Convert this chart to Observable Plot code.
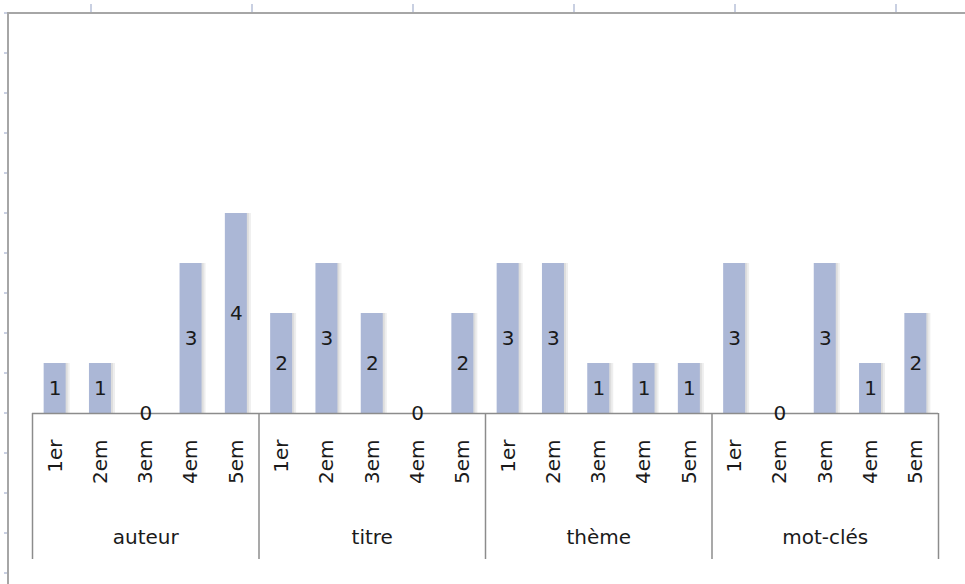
<!DOCTYPE html>
<html>
<head>
<meta charset="utf-8">
<script src="https://cdn.jsdelivr.net/npm/d3@7"></script>
<script src="https://cdn.jsdelivr.net/npm/@observablehq/plot@0.6"></script>
<style>
  html, body { margin: 0; padding: 0; background: #fff; }
  #wrap { position: relative; width: 965px; height: 584px; overflow: hidden; }
  #topticks { position: absolute; left: 0; top: 4px; width: 965px; height: 8px;
    background: repeating-linear-gradient(to right, transparent 0 90px, #c9d0e2 90px 92px, transparent 92px 161px); }
  #leftticks { position: absolute; left: 4px; top: 0; width: 3px; height: 584px;
    background: repeating-linear-gradient(to bottom, transparent 0 12px, #c9d0e2 12px 14px, transparent 14px 40px); }
  #frame { position: absolute; left: 7px; top: 12px; width: 970px; height: 600px;
    border-top: 2px solid #a6a6a6; border-left: 2px solid #a6a6a6; box-sizing: border-box; }
  #chart { position: absolute; left: 0; top: 0; }
</style>
</head>
<body>
<div id="wrap">
  <div id="topticks"></div>
  <div id="leftticks"></div>
  <div id="frame"></div>
  <div id="chart"></div>
</div>
<script>
const groups = ["auteur", "titre", "thème", "mot-clés"];
const ranks = ["1er", "2em", "3em", "4em", "5em"];
const auteur = [1, 1, 0, 3, 4];
const titre = [2, 3, 2, 0, 2];
const theme = [3, 3, 1, 1, 1];
const motCles = [3, 0, 3, 1, 2];

const seriesByGroup = { "auteur": auteur, "titre": titre, "thème": theme, "mot-clés": motCles };
const data = groups.flatMap(g => ranks.map((r, i) => ({ group: g, rank: r, key: g + "|" + r, value: seriesByGroup[g][i] })));
const keys = data.map(d => d.key);

const W = 965, H = 584;
const mL = 32, mR = 27, mT = 13, mB = 171;
const bw = (W - mL - mR) / keys.length;
const barW = 22;
const inset = (bw - barW) / 2;
const font = "DejaVu Sans, sans-serif";

const firsts = data.filter(d => d.rank === ranks[0]);
const lasts = data.filter(d => d.group === groups[groups.length - 1] && d.rank === ranks[ranks.length - 1]);
const middles = data.filter(d => d.rank === ranks[2]);

const chart = Plot.plot({
  width: W,
  height: H,
  marginLeft: mL,
  marginRight: mR,
  marginTop: mT,
  marginBottom: mB,
  style: { fontFamily: font, background: "transparent", overflow: "visible" },
  x: { type: "band", domain: keys, padding: 0, round: false, axis: null },
  y: { domain: [0, 8], axis: null },
  marks: [
    // soft shadow
    Plot.barY(data.filter(d => d.value > 0), { x: "key", y: "value", insetLeft: inset + 2, insetRight: inset - 4, fill: "#eeeeee" }),
    Plot.barY(data.filter(d => d.value > 0), { x: "key", y: "value", insetLeft: inset + 1, insetRight: inset - 2, fill: "#dddddd" }),
    Plot.barY(data, { x: "key", y: "value", insetLeft: inset, insetRight: inset, fill: "#abb7d6" }),
    // baseline
    Plot.ruleY([0], { stroke: "#8c8c8c", strokeWidth: 1.5 }),
    // group separators
    Plot.ruleX(firsts, { x: "key", y1: 0, y2: -2.92, dx: -bw / 2, stroke: "#8c8c8c", strokeWidth: 1.5 }),
    Plot.ruleX(lasts, { x: "key", y1: 0, y2: -2.92, dx: bw / 2, stroke: "#8c8c8c", strokeWidth: 1.5 }),
    // value labels
    Plot.text(data, { x: "key", y: d => d.value / 2, text: d => String(d.value), fill: "#1a1a1a", fontSize: 20 }),
    // rank tick labels
    Plot.text(data, { x: "key", y: 0, text: "rank", rotate: -90, textAnchor: "end", dy: 26, fill: "#1a1a1a", fontSize: 20 }),
    // group labels
    Plot.text(middles, { x: "key", y: 0, text: "group", dy: 124, fill: "#1a1a1a", fontSize: 20 })
  ]
});
document.getElementById("chart").appendChild(chart);
</script>
</body>
</html>
